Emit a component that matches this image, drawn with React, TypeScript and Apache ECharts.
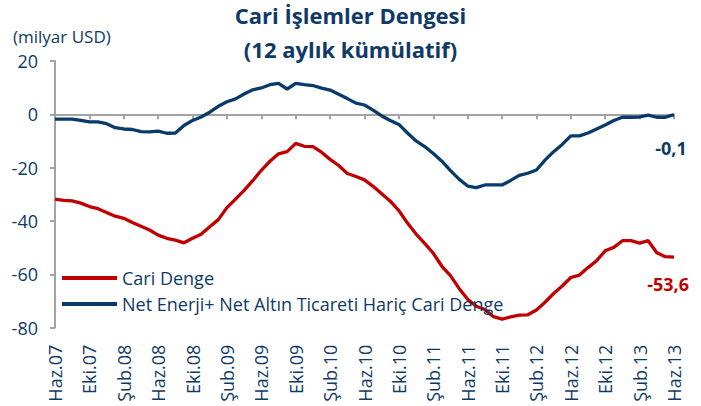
import { useEffect, useRef } from "react";
import * as echarts from "echarts";

const monthNames = ["Oca", "Şub", "Mar", "Nis", "May", "Haz", "Tem", "Ağu", "Eyl", "Eki", "Kas", "Ara"];
const startYear = 2007;
const startMonth = 5; // Haziran
const monthCount = 73;

const categories: string[] = [];
for (let k = 0; k < monthCount; k++) {
  const m = (startMonth + k) % 12;
  const y = startYear + Math.floor((startMonth + k) / 12);
  categories.push(`${monthNames[m]}.${String(y % 100).padStart(2, "0")}`);
}

const yTicks = { min: -80, max: 20, interval: 20 };

const cariDenge = [
  -31.8, -32.3, -32.5, -33.3, -34.6, -35.4, -36.8, -38.2, -39.0, -40.6,
  -42.0, -43.4, -45.3, -46.5, -47.2, -48.2, -46.5, -45.0, -42.2, -39.5,
  -35.0, -31.8, -28.5, -24.9, -21.0, -17.6, -14.8, -14.0, -10.9, -12.0,
  -12.1, -14.2, -16.9, -19.2, -22.2, -23.3, -24.6, -27.0, -29.8, -32.6,
  -36.1, -40.8, -44.9, -48.4, -52.1, -57.0, -60.5, -65.3, -69.4, -72.0,
  -73.2, -75.9, -76.8, -76.0, -75.3, -75.2, -73.4, -70.5, -67.2, -64.4,
  -61.2, -60.3, -57.5, -54.9, -51.2, -49.9, -47.4, -47.4, -48.3, -47.4,
  -51.9, -53.4, -53.6,
];

const haricCariDenge = [
  -1.8, -1.8, -1.8, -2.3, -2.8, -2.8, -3.5, -5.0, -5.5, -5.7,
  -6.5, -6.6, -6.3, -7.1, -7.0, -4.2, -2.3, -1.0, 0.8, 3.0,
  4.7, 5.8, 7.6, 9.2, 9.9, 11.1, 11.6, 9.5, 11.6, 11.1,
  10.8, 9.8, 9.1, 7.5, 5.9, 4.2, 3.5, 1.6, -0.6, -2.3,
  -3.8, -7.0, -10.0, -12.1, -14.7, -17.6, -21.1, -24.3, -26.9, -27.5,
  -26.5, -26.5, -26.5, -24.8, -22.9, -22.1, -20.9, -17.2, -14.0, -11.3,
  -8.1, -8.1, -7.0, -5.5, -4.0, -2.3, -1.1, -1.1, -1.0, -0.3,
  -1.1, -1.1, -0.1,
];

const seriesNames = ["Cari Denge", "Net Enerji+ Net Altın Ticareti Hariç Cari Denge"];

const NAVY = "#0f3a66";
const RED = "#c00000";
const BLUE = "#083a6b";
const GRAY = "#a3a3a3";
const FONT = "'Open Sans', 'Noto Sans', sans-serif";

const fmt = (v: number) => v.toFixed(1).replace(".", ",");

export default function App() {
  const ref = useRef<HTMLDivElement>(null);

  useEffect(() => {
    if (!ref.current) return;
    const chart = echarts.init(ref.current, undefined, { renderer: "svg" });
    const option = {
      animation: false,
      textStyle: { fontFamily: FONT },
      title: {
        text: "Cari İşlemler Dengesi\n(12 aylık kümülatif)",
        left: "center",
        top: -2,
        padding: 0,
        textStyle: { fontSize: 22, fontWeight: "bold", color: NAVY, lineHeight: 34, fontFamily: FONT },
      },
      grid: { left: 55, right: 27, top: 61, bottom: 78.4, containLabel: false },
      legend: {
        orient: "vertical",
        left: 62,
        top: 269,
        padding: 0,
        itemGap: 8,
        itemWidth: 55,
        itemHeight: 4,
        icon: "rect",
        textStyle: { fontSize: 18, color: NAVY, lineHeight: 18, fontFamily: FONT },
        data: seriesNames,
      },
      xAxis: [
        {
          type: "category",
          data: categories,
          boundaryGap: false,
          position: "bottom",
          axisLine: { show: false, onZero: false },
          axisTick: { show: false },
          splitLine: { show: false },
          axisLabel: {
            interval: 3,
            rotate: 90,
            fontSize: 18,
            color: NAVY,
            margin: 17,
            padding: [10, 0, 0, 0],
            fontFamily: FONT,
          },
        },
        {
          type: "category",
          data: categories,
          boundaryGap: false,
          position: "bottom",
          axisLine: { show: true, onZero: true, lineStyle: { color: GRAY, width: 2 } },
          axisTick: { show: true, interval: 3, length: 5, lineStyle: { color: GRAY, width: 2 } },
          axisLabel: { show: false },
          splitLine: { show: false },
        },
      ],
      yAxis: {
        type: "value",
        min: yTicks.min,
        max: yTicks.max,
        interval: yTicks.interval,
        axisLine: { show: true, lineStyle: { color: GRAY, width: 2 } },
        axisTick: { show: true, length: 5, lineStyle: { color: GRAY, width: 2 } },
        splitLine: { show: false },
        axisLabel: { fontSize: 18, color: NAVY, margin: 17, fontFamily: FONT },
      },
      graphic: [
        {
          type: "text",
          left: 13,
          top: 28,
          style: { text: "(milyar USD)", fontSize: 17, fill: NAVY, fontFamily: FONT },
        },
        {
          type: "text",
          x: 671,
          y: 147.5,
          style: {
            text: fmt(haricCariDenge[haricCariDenge.length - 1]),
            fontSize: 18,
            fontWeight: "bold",
            fill: NAVY,
            align: "center",
            verticalAlign: "middle",
            fontFamily: FONT,
          },
        },
        {
          type: "text",
          x: 689,
          y: 284,
          style: {
            text: fmt(cariDenge[cariDenge.length - 1]),
            fontSize: 18,
            fontWeight: "bold",
            fill: RED,
            align: "right",
            verticalAlign: "middle",
            fontFamily: FONT,
          },
        },
      ],
      series: [
        {
          name: seriesNames[0],
          type: "line",
          data: cariDenge,
          xAxisIndex: 0,
          showSymbol: false,
          symbol: "none",
          lineStyle: { color: RED, width: 3.3 },
          itemStyle: { color: RED },
        },
        {
          name: seriesNames[1],
          type: "line",
          data: haricCariDenge,
          xAxisIndex: 0,
          showSymbol: false,
          symbol: "none",
          lineStyle: { color: BLUE, width: 3.3 },
          itemStyle: { color: BLUE },
        },
      ],
    };
    chart.setOption(option);
    return () => chart.dispose();
  }, []);

  return (
    <div
      ref={ref}
      style={{ position: "absolute", left: 0, top: 0, width: 701, height: 406 }}
    />
  );
}
